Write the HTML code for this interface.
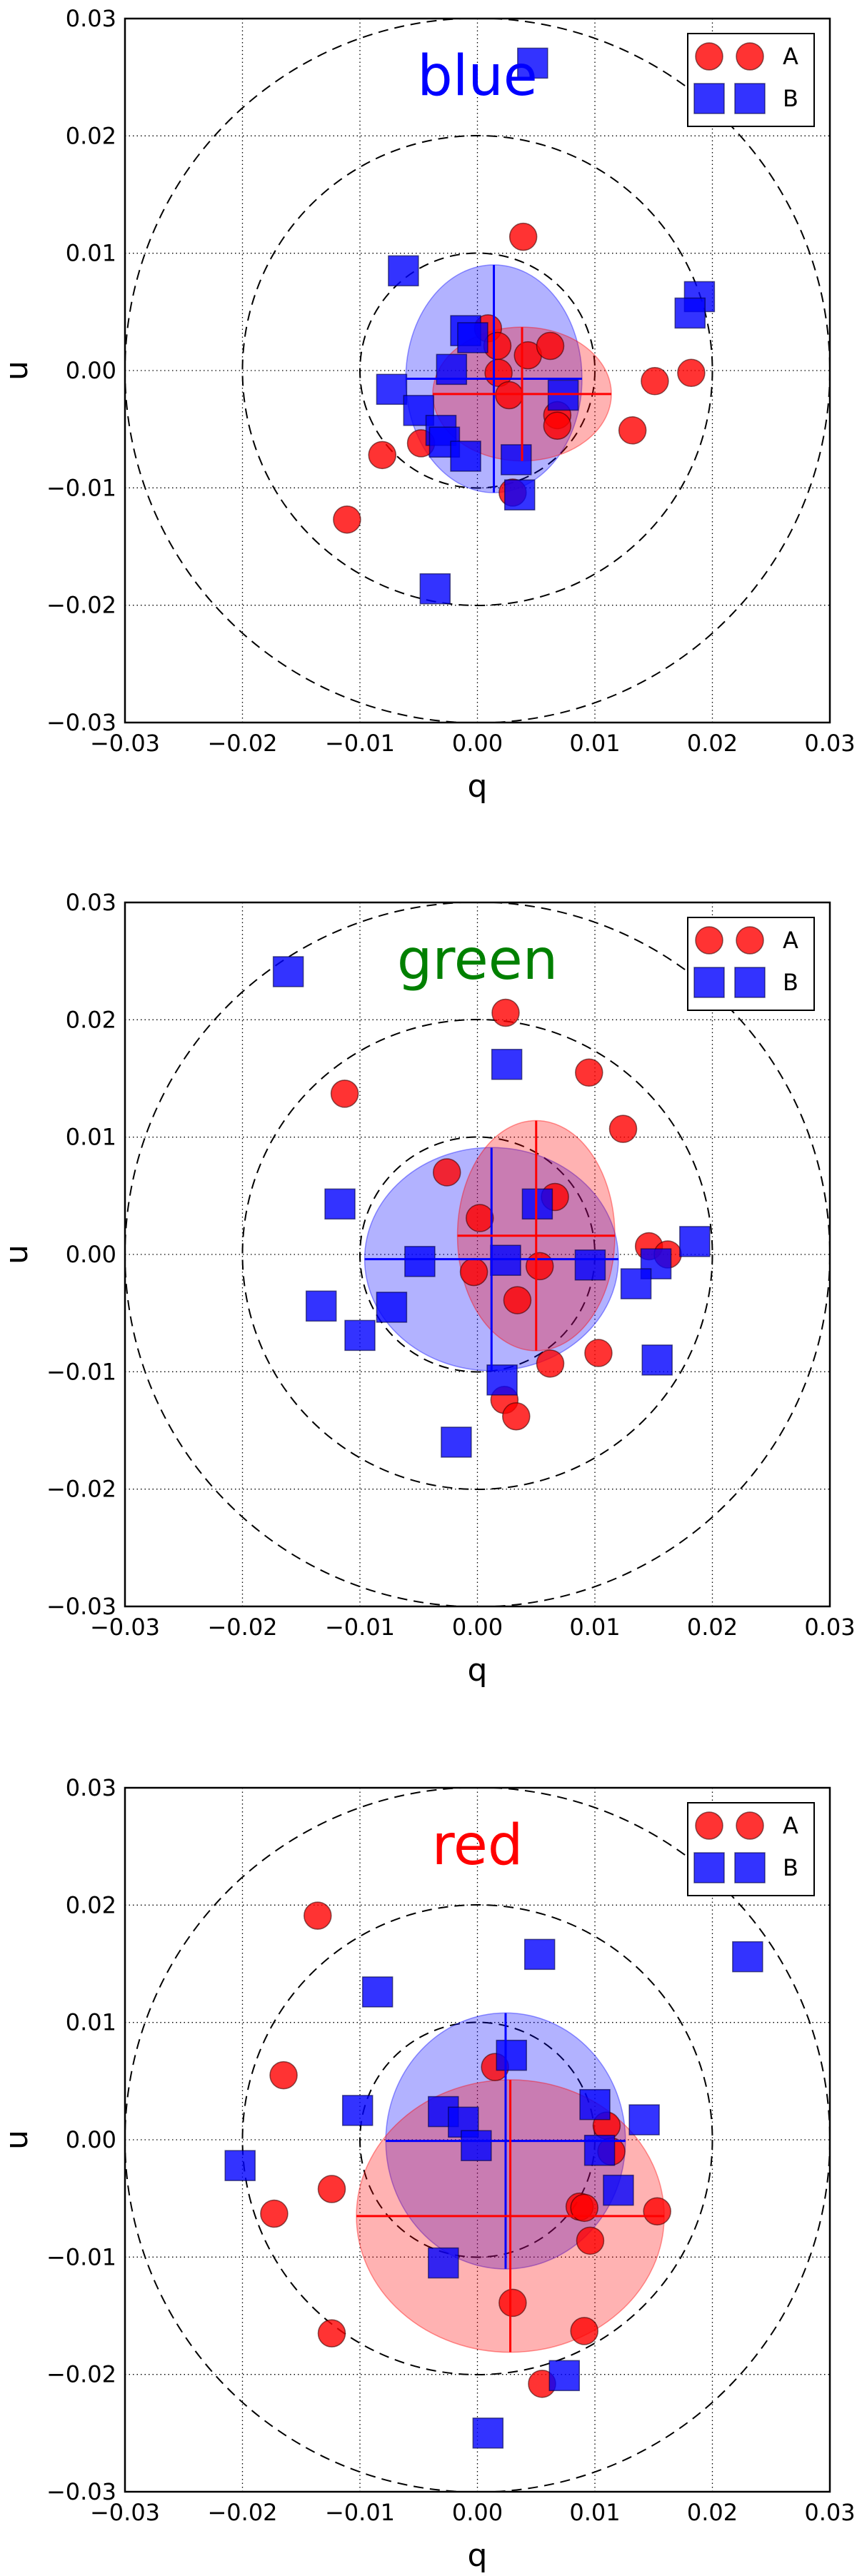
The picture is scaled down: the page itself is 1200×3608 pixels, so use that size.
<!DOCTYPE html>
<html><head><meta charset="utf-8"><style>
html,body{margin:0;padding:0;background:#fff}
svg{display:block}
text{font-family:"DejaVu Sans","Liberation Sans",sans-serif}
</style></head><body>
<svg id="chart" width="1200" height="3608" viewBox="0 0 1200 3608" xmlns="http://www.w3.org/2000/svg"></svg>
<script>
// ---- data ----
const panelNames = ["blue","green","red"];
const titleColors = ["#0000ff","#008000","#ff0000"];
const tickValues = [-0.03,-0.02,-0.01,0.00,0.01,0.02,0.03];
const tickLabels = ["\u22120.03","\u22120.02","\u22120.01","0.00","0.01","0.02","0.03"];
const ringRadii = [0.01,0.02,0.03];

const blueA_q = [0.0039,0.0009,0.0017,0.0043,0.0062,0.0018,0.0027,0.0068,0.0068,0.0151,0.0182,0.0132,-0.0048,-0.0081,-0.0111,0.0030];
const blueA_u = [0.0114,0.0036,0.0021,0.0013,0.0021,-0.0002,-0.0021,-0.0038,-0.0047,-0.0009,-0.0002,-0.0051,-0.0062,-0.0072,-0.0127,-0.0104];
const blueB_q = [0.0047,-0.0063,0.0189,0.0181,-0.0010,-0.0004,-0.0022,-0.0073,-0.0050,-0.0031,-0.0028,-0.0010,0.0033,0.0036,-0.0036,0.0073];
const blueB_u = [0.0262,0.0085,0.0063,0.0049,0.0034,0.0028,0.0001,-0.0016,-0.0034,-0.0051,-0.0061,-0.0073,-0.0076,-0.0106,-0.0186,-0.0021];

const greenA_q = [0.0024,0.0095,-0.0113,0.0124,-0.0026,0.0066,0.0002,0.0146,0.0162,-0.0003,0.0053,0.0034,0.0103,0.0062,0.0023,0.0033];
const greenA_u = [0.0206,0.0155,0.0137,0.0107,0.0070,0.0049,0.0031,0.0007,0.0000,-0.0015,-0.0010,-0.0039,-0.0084,-0.0093,-0.0124,-0.0138];
const greenB_q = [-0.0161,0.0025,-0.0117,0.0051,0.0185,-0.0049,0.0024,0.0096,0.0152,0.0135,-0.0133,-0.0073,-0.0100,0.0021,0.0153,-0.0018];
const greenB_u = [0.0241,0.0162,0.0043,0.0043,0.0011,-0.0006,-0.0005,-0.0009,-0.0008,-0.0025,-0.0044,-0.0045,-0.0069,-0.0107,-0.0090,-0.0160];

const redA_q = [-0.0136,-0.0165,0.0015,0.0110,0.0114,-0.0124,-0.0173,0.0087,0.0091,0.0153,0.0096,0.0030,0.0091,-0.0124,0.0055];
const redA_u = [0.0191,0.0055,0.0062,0.0012,-0.0010,-0.0042,-0.0063,-0.0057,-0.0058,-0.0061,-0.0086,-0.0139,-0.0163,-0.0165,-0.0208];
const redB_q = [0.0053,0.0230,-0.0085,0.0029,0.0100,-0.0102,-0.0029,-0.0012,0.0142,-0.0001,0.0104,0.0120,-0.0202,-0.0029,0.0074,0.0009];
const redB_u = [0.0158,0.0156,0.0126,0.0072,0.0030,0.0025,0.0024,0.0015,0.0017,-0.0005,-0.0009,-0.0043,-0.0022,-0.0105,-0.0201,-0.0250];

// ellipses: [center q, center u, radius q, radius u]
const ellipseA = [[0.0038,-0.0020,0.0076,0.0057],[0.0050,0.0016,0.0067,0.0098],[0.0028,-0.0065,0.0131,0.0116]];
const ellipseB = [[0.0014,-0.0007,0.0075,0.0097],[0.0012,-0.0004,0.0108,0.0095],[0.0024,-0.0001,0.0102,0.0109]];

const seriesA_q = [blueA_q,greenA_q,redA_q];
const seriesA_u = [blueA_u,greenA_u,redA_u];
const seriesB_q = [blueB_q,greenB_q,redB_q];
const seriesB_u = [blueB_u,greenB_u,redB_u];

// ---- layout ----
const NS = "http://www.w3.org/2000/svg";
const svg = document.getElementById("chart");
const L = 175, W = 987, H = 986;
const tops = [26,1264,2504];
function mk(tag, attrs, parent){ const e=document.createElementNS(NS,tag); for(const k in attrs) e.setAttribute(k,attrs[k]); (parent||svg).appendChild(e); return e; }

for (let p=0;p<3;p++){
  const T = tops[p];
  const sx = v => L + (v+0.03)/0.06*W;
  const sy = v => T + (0.03-v)/0.06*H;
  const k = W/0.06;
  const g = mk("g",{});
  
  
  const clipId = "clip"+p;
  const cp = mk("clipPath",{id:clipId},g);
  mk("rect",{x:L,y:T,width:W,height:H},cp);
  const inner = mk("g",{"clip-path":"url(#"+clipId+")"},g);

  // grid
  tickValues.forEach(v=>{
    const gl = mk("line",{x1:sx(v),x2:sx(v),y1:T,y2:T+H,stroke:"#000","stroke-width":1.3,"stroke-dasharray":"1.5,4"},inner);
    
    
    const gh = mk("line",{x1:L,x2:L+W,y1:sy(v),y2:sy(v),stroke:"#000","stroke-width":1.3,"stroke-dasharray":"1.5,4"},inner);
    
    
  });
  // rings
  ringRadii.forEach(r=>{
    const c = mk("circle",{cx:sx(0),cy:sy(0),r:r*k,fill:"none",stroke:"#000","stroke-width":2,"stroke-dasharray":"14,9"},inner);
    
    
  });
  // ellipses and crosses
  const drawEll = (e,fill,stroke,name)=>{
    const el = mk("ellipse",{cx:sx(e[0]),cy:sy(e[1]),rx:e[2]*k,ry:e[3]*k,fill:fill,"fill-opacity":0.3,stroke:stroke,"stroke-opacity":0.4,"stroke-width":1.5},inner);
    
    
  };
  const drawCross = (e,col,name)=>{
    const h = mk("line",{x1:sx(e[0]-e[2]),x2:sx(e[0]+e[2]),y1:sy(e[1]),y2:sy(e[1]),stroke:col,"stroke-width":3},inner);
    
    
    const v = mk("line",{x1:sx(e[0]),x2:sx(e[0]),y1:sy(e[1]+e[3]),y2:sy(e[1]-e[3]),stroke:col,"stroke-width":3},inner);
    
    
  };
  drawEll(ellipseB[p],"#0000ff","#0000ff","series-b");
  drawEll(ellipseA[p],"#ff0000","#ff0000","series-a");

  // markers
  seriesA_q[p].forEach((q,i)=>{
    const c = mk("circle",{cx:sx(q),cy:sy(seriesA_u[p][i]),r:19,fill:"#ff0000","fill-opacity":0.8,stroke:"#3a0000","stroke-opacity":0.6,"stroke-width":1.5},inner);
    
    
  });
  seriesB_q[p].forEach((q,i)=>{
    const s = 42;
    const r = mk("rect",{x:sx(q)-s/2,y:sy(seriesB_u[p][i])-s/2,width:s,height:s,fill:"#0000ff","fill-opacity":0.8,stroke:"#00003a","stroke-opacity":0.6,"stroke-width":1.5},inner);
    
    
  });
  drawCross(ellipseB[p],"#0000ff","series-b");
  drawCross(ellipseA[p],"#ff0000","series-a");

  // frame
  const fr = mk("rect",{x:L,y:T,width:W,height:H,fill:"none",stroke:"#000","stroke-width":2.5},g);
  
  

  // ticks
  tickValues.forEach((v,i)=>{
    const tx = mk("text",{x:sx(v),y:T+H+40,"text-anchor":"middle","font-size":32,fill:"#000"},g);
    tx.textContent = tickLabels[i];
    
    
    const ty = mk("text",{x:L-12,y:sy(v)+11,"text-anchor":"end","font-size":32,fill:"#000"},g);
    ty.textContent = tickLabels[i];
    
    
  });
  // axis titles
  const xt = mk("text",{x:L+W/2,y:T+H+104,"text-anchor":"middle","font-size":44,fill:"#000"},g);
  xt.textContent = "q";
  
  
  const yt = mk("text",{x:0,y:0,"text-anchor":"middle","font-size":44,fill:"#000",transform:"translate(38,"+(T+H/2)+") rotate(-90)"},g);
  yt.textContent = "u";
  
  

  // title
  const tt = mk("text",{x:L+W/2,y:T+107,"text-anchor":"middle","font-size":78,fill:titleColors[p]},g);
  tt.textContent = panelNames[p];
  
  

  // legend
  const lg = mk("g",{},g);
  
  
  mk("rect",{x:963,y:T+21,width:177,height:130,fill:"#fff",stroke:"#000","stroke-width":2},lg);
  [993,1050].forEach(x=>{
    const c = mk("circle",{cx:x,cy:T+53,r:19,fill:"#ff0000","fill-opacity":0.8,stroke:"#3a0000","stroke-opacity":0.6,"stroke-width":1.5},lg);
    
    
    const r = mk("rect",{x:x-21,y:T+112-21,width:42,height:42,fill:"#0000ff","fill-opacity":0.8,stroke:"#00003a","stroke-opacity":0.6,"stroke-width":1.5},lg);
    
    
  });
  const la = mk("text",{x:1096,y:T+64,"font-size":32,fill:"#000"},lg);
  la.textContent = "A";
  
  
  const lb = mk("text",{x:1096,y:T+123,"font-size":32,fill:"#000"},lg);
  lb.textContent = "B";
  
  
}
</script>
</body></html>
